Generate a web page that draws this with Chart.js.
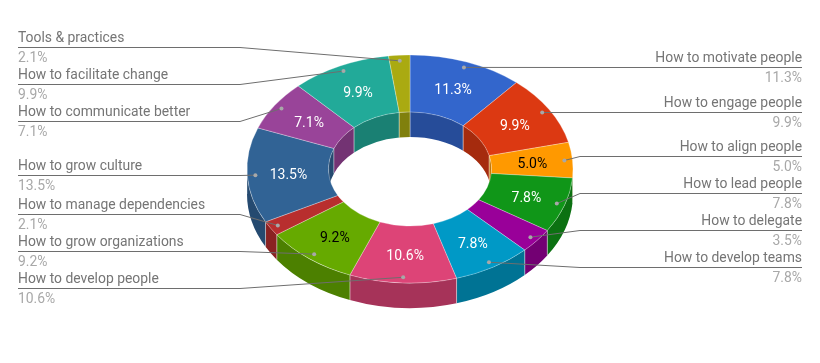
<!DOCTYPE html>
<html>
<head>
<meta charset="utf-8">
<style>
  html, body { margin: 0; background: #fff; }
  canvas { display: block; }
</style>
<script src="https://cdn.jsdelivr.net/npm/chart.js@4"></script>
</head>
<body>
<canvas id="chart" width="820" height="363"></canvas>
<script>
const categories = [
  "How to motivate people", "How to engage people", "How to align people",
  "How to lead people", "How to delegate", "How to develop teams",
  "How to develop people", "How to grow organizations", "How to manage dependencies",
  "How to grow culture", "How to communicate better", "How to facilitate change",
  "Tools & practices",
];
const percents = [11.3, 9.9, 5.0, 7.8, 3.5, 7.8, 10.6, 9.2, 2.1, 13.5, 7.1, 9.9, 2.1];
const sliceColors = [
  "#3366cc", "#dc3912", "#ff9900", "#109618", "#990099", "#0099c6", "#dd4477",
  "#66aa00", "#b82e2e", "#316395", "#994499", "#22aa99", "#aaaa11",
];
const wallColors = [
  "#264c99", "#a52b0e", "#bf7300", "#0c7112", "#730073", "#007394", "#a63359",
  "#4c8000", "#8a2222", "#254a70", "#733373", "#1a8073", "#80800d",
];
const insideTextColors = [
  "#fff", "#fff", "#000", "#fff", "#fff", "#fff", "#fff",
  "#000", "#fff", "#fff", "#fff", "#fff", "#fff",
];
// y of the horizontal part of each leader line, same order as categories
const leaderRows = [67.5, 112.5, 156.5, 193.5, 230.5, 267.5, 288.5, 251.5, 214.5, 175.5, 121.5, 84.5, 47.5];

const TILT = 0.7;
const DEPTH = 25;
const PIE_Y = 169;
const SEAM = "rgba(255,255,255,0.35)";
const LEFT_EDGE = 18;
const RIGHT_EDGE = 802;
const LEFT_ELBOW = 240;
const RIGHT_ELBOW = 580;

function tiltPoint(arc, radius, angle) {
  return {
    x: arc.x + Math.cos(angle) * radius,
    y: PIE_Y + Math.sin(angle) * radius * TILT,
  };
}

function drawWall(ctx, arc, radius, from, to, color) {
  if (to <= from) return;
  const ry = radius * TILT;
  ctx.beginPath();
  ctx.ellipse(arc.x, PIE_Y, radius, ry, 0, from, to);
  ctx.ellipse(arc.x, PIE_Y + DEPTH, radius, ry, 0, to, from, true);
  ctx.closePath();
  ctx.fillStyle = color;
  ctx.fill();

  ctx.strokeStyle = SEAM;
  ctx.lineWidth = 1;
  for (const angle of [from, to]) {
    const top = tiltPoint(arc, radius, angle);
    ctx.beginPath();
    ctx.moveTo(top.x, top.y);
    ctx.lineTo(top.x, top.y + DEPTH);
    ctx.stroke();
  }
}

const ringPlugin = {
  id: "ring",
  beforeDatasetsDraw(chart) {
    const { ctx } = chart;
    const arcs = chart.getDatasetMeta(0).data;
    arcs.forEach((arc, i) => {
      // far side of the hole: the chart's angles run from -PI/2 to 3PI/2
      drawWall(ctx, arc, arc.innerRadius, Math.max(arc.startAngle, -Math.PI / 2), Math.min(arc.endAngle, 0), wallColors[i]);
      drawWall(ctx, arc, arc.innerRadius, Math.max(arc.startAngle, Math.PI), Math.min(arc.endAngle, Math.PI * 1.5), wallColors[i]);
      // near side of the outer rim
      drawWall(ctx, arc, arc.outerRadius, Math.max(arc.startAngle, 0), Math.min(arc.endAngle, Math.PI), wallColors[i]);
    });
    ctx.save();
    ctx.translate(0, PIE_Y);
    ctx.scale(1, TILT);
    ctx.translate(0, -arcs[0].y);
  },
  afterDatasetsDraw(chart) {
    const { ctx } = chart;
    ctx.restore();
    const arcs = chart.getDatasetMeta(0).data;

    arcs.forEach((arc, i) => {
      const mid = (arc.startAngle + arc.endAngle) / 2;
      const dot = tiltPoint(arc, arc.outerRadius * 0.95, mid);
      const onRight = mid < Math.PI / 2;
      const row = leaderRows[i];
      const elbow = onRight ? RIGHT_ELBOW : LEFT_ELBOW;
      const edge = onRight ? RIGHT_EDGE : LEFT_EDGE;

      ctx.strokeStyle = "#6e6e6e";
      ctx.lineWidth = 1;
      ctx.beginPath();
      ctx.moveTo(dot.x, dot.y);
      ctx.lineTo(elbow, row);
      ctx.lineTo(edge, row);
      ctx.stroke();

      ctx.fillStyle = "#a8a8a8";
      ctx.beginPath();
      ctx.arc(dot.x, dot.y, 2, 0, Math.PI * 2);
      ctx.fill();

      ctx.font = "13.9px Roboto";
      ctx.textAlign = onRight ? "right" : "left";
      ctx.textBaseline = "alphabetic";
      ctx.fillStyle = "#757575";
      ctx.fillText(categories[i], edge, row - 5.5);
      ctx.fillStyle = "#a8a8a8";
      ctx.fillText(percents[i].toFixed(1) + "%", edge, row + 14.5);
    });

    arcs.forEach((arc, i) => {
      if (percents[i] < 4) return;
      const mid = (arc.startAngle + arc.endAngle) / 2;
      const spot = tiltPoint(arc, (arc.innerRadius + arc.outerRadius) / 2, mid);
      ctx.font = "14px Roboto";
      ctx.textAlign = "center";
      ctx.textBaseline = "middle";
      ctx.fillStyle = insideTextColors[i];
      ctx.fillText(percents[i].toFixed(1) + "%", spot.x + 0.5, spot.y + 2);
    });
  },
};

new Chart(document.getElementById("chart"), {
  type: "doughnut",
  data: {
    labels: categories,
    datasets: [
      {
        data: percents,
        backgroundColor: sliceColors,
        borderColor: SEAM,
        borderWidth: 1,
        clip: false,
      },
    ],
  },
  options: {
    responsive: false,
    animation: false,
    cutout: "50%",
    layout: { padding: { top: 6, bottom: 30 } },
    plugins: { legend: { display: false }, tooltip: { enabled: false } },
  },
  plugins: [ringPlugin],
});
</script>
</body>
</html>
